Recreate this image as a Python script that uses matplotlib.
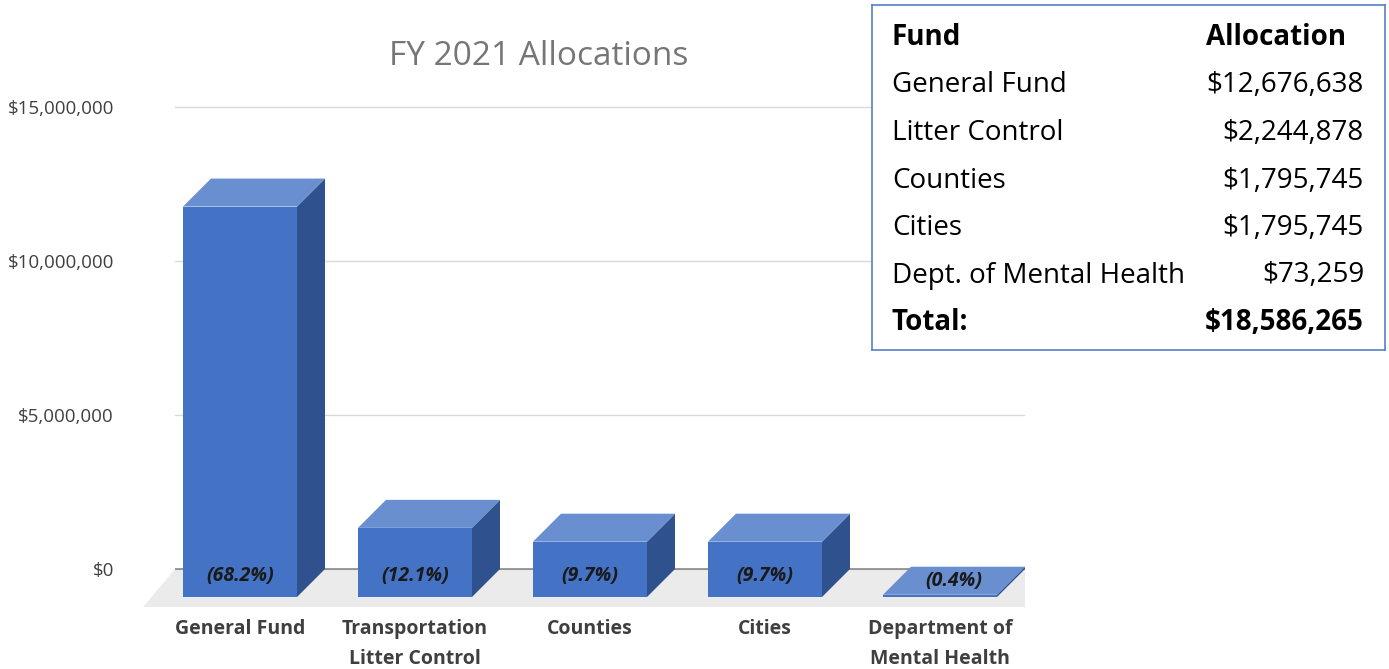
import matplotlib
matplotlib.use("Agg")
import matplotlib.pyplot as plt
from matplotlib.patches import Polygon
from matplotlib.ticker import FuncFormatter

# ---------------- data ----------------
categories = ["General Fund", "Transportation\nLitter Control", "Counties",
              "Cities", "Department of\nMental Health"]
values = [12676638, 2244878, 1795745, 1795745, 73259]
yticks = [0, 5_000_000, 10_000_000, 15_000_000]
title = "FY 2021 Allocations"

table_header = ["Fund", "Allocation"]
table_funds = ["General Fund", "Litter Control", "Counties", "Cities",
               "Dept. of Mental Health"]
table_values = [12676638, 2244878, 1795745, 1795745, 73259]
total_label = "Total:"

# ---------------- layout ----------------
W, H, DPI = 1389, 669, 100
plt.rcParams["font.family"] = ["Open Sans", "DejaVu Sans"]

fig = plt.figure(figsize=(W / DPI, H / DPI), dpi=DPI)
fig.patch.set_facecolor("white")


def fig_rect(l, t, r, b):
    return [l / W, 1 - b / H, (r - l) / W, (b - t) / H]


PLOT_L, PLOT_R, PLOT_T, PLOT_B = 175, 1025, 90, 615
CAT0_PX, CAT_STEP_PX = 240, 175
ZERO_PX, PX_PER_UNIT = 569, 154 / 5e6
DEPTH_PX, HALF_W_PX, FLOOR_PX = 28, 57, 38

ax = fig.add_axes(fig_rect(PLOT_L, PLOT_T, PLOT_R, PLOT_B))
ax.set_xlim((PLOT_L - CAT0_PX) / CAT_STEP_PX, (PLOT_R - CAT0_PX) / CAT_STEP_PX)
ax.set_ylim((ZERO_PX - PLOT_B) / PX_PER_UNIT, (ZERO_PX - PLOT_T) / PX_PER_UNIT)
ax.patch.set_alpha(0)
for s in ax.spines.values():
    s.set_visible(False)

ddx = DEPTH_PX / CAT_STEP_PX
ddy = DEPTH_PX / PX_PER_UNIT
hw = HALF_W_PX / CAT_STEP_PX
fdx = (FLOOR_PX - 6) / CAT_STEP_PX
fdy = FLOOR_PX / PX_PER_UNIT

x0, x1 = ax.get_xlim()

# floor
ax.add_patch(Polygon([(x0, 0), (x1, 0), (x1, -fdy), (x0 - fdx, -fdy)],
                     closed=True, facecolor="#ebebeb", edgecolor="none",
                     zorder=0.5, clip_on=False))

# gridlines + y ticks
ax.set_yticks(yticks)
ax.yaxis.set_major_formatter(FuncFormatter(lambda v, p: f"${v:,.0f}"))
ax.tick_params(axis="y", length=0, pad=44, labelsize=13.5, labelcolor="#404040")
ax.grid(axis="y", color="#d9d9d9", lw=1.0)
ax.set_axisbelow(True)
ax.axhline(0, color="#808080", lw=1.1, zorder=1)

# x tick labels
ax.set_xticks(range(len(categories)))
ax.set_xticklabels(categories, fontsize=14, fontweight="bold", color="#3f3f3f")
for lbl in ax.get_xticklabels():
    lbl.set_linespacing(1.65)
ax.tick_params(axis="x", length=0, pad=3.0)

FRONT, TOP, SIDE = "#4472c4", "#6a8fd1", "#2f528f"
total = sum(values)
label_up = 21 / PX_PER_UNIT
for i, v in enumerate(values):
    l, r = i - hw, i + hw
    front = [(l, -ddy), (r, -ddy), (r, v - ddy), (l, v - ddy)]
    top = [(l, v - ddy), (r, v - ddy), (r + ddx, v), (l + ddx, v)]
    side = [(r, -ddy), (r + ddx, 0), (r + ddx, v), (r, v - ddy)]
    ax.add_patch(Polygon(side, closed=True, facecolor=SIDE, edgecolor="none", zorder=3))
    ax.add_patch(Polygon(front, closed=True, facecolor=FRONT, edgecolor="none", zorder=3))
    ax.add_patch(Polygon(top, closed=True, facecolor=TOP, edgecolor="none", zorder=3))
    if v * PX_PER_UNIT < 10:
        lx, ly = i + ddx / 2, v - ddy / 2
    else:
        lx, ly = i, -ddy + label_up
    ax.text(lx, ly, f"({v / total * 100:.1f}%)", ha="center", va="center",
            fontsize=14, fontweight="bold", fontstyle="italic", color="#1a1a1a",
            zorder=10)

# title
fig.text(539 / W, 1 - 65 / H, title, ha="center", va="baseline",
         fontsize=24, color="#767676")

# ---------------- table ----------------
TL, TT, TR, TB = 872, 5, 1385, 350
tab = fig.add_axes(fig_rect(TL, TT, TR, TB))
tab.set_xlim(TL, TR)
tab.set_ylim(TB, TT)
tab.set_xticks([])
tab.set_yticks([])
tab.set_facecolor("white")
for s in tab.spines.values():
    s.set_color("#5a7fc6")
    s.set_linewidth(1.2)

NAME_X, HEAD_VAL_X, VAL_RIGHT_X = 892, 1206, 1364
BASE0, ROW_STEP = 45, 47.5
FS = 20
tab.text(NAME_X, BASE0, table_header[0], fontsize=FS, fontweight="bold",
         va="baseline", ha="left", color="black")
tab.text(HEAD_VAL_X, BASE0, table_header[1], fontsize=FS, fontweight="bold",
         va="baseline", ha="left", color="black")
for k, (name, val) in enumerate(zip(table_funds, table_values), start=1):
    y = BASE0 + ROW_STEP * k
    tab.text(NAME_X, y, name, fontsize=FS, va="baseline", ha="left", color="black")
    tab.text(VAL_RIGHT_X, y, f"${val:,}", fontsize=FS, va="baseline",
             ha="right", color="black")
y = BASE0 + ROW_STEP * (len(table_funds) + 1)
tab.text(NAME_X, y, total_label, fontsize=FS, fontweight="bold", va="baseline",
         ha="left", color="black")
tab.text(VAL_RIGHT_X, y, f"${sum(table_values):,}", fontsize=FS, fontweight="bold",
         va="baseline", ha="right", color="black")

fig.savefig("out.png", dpi=DPI)
